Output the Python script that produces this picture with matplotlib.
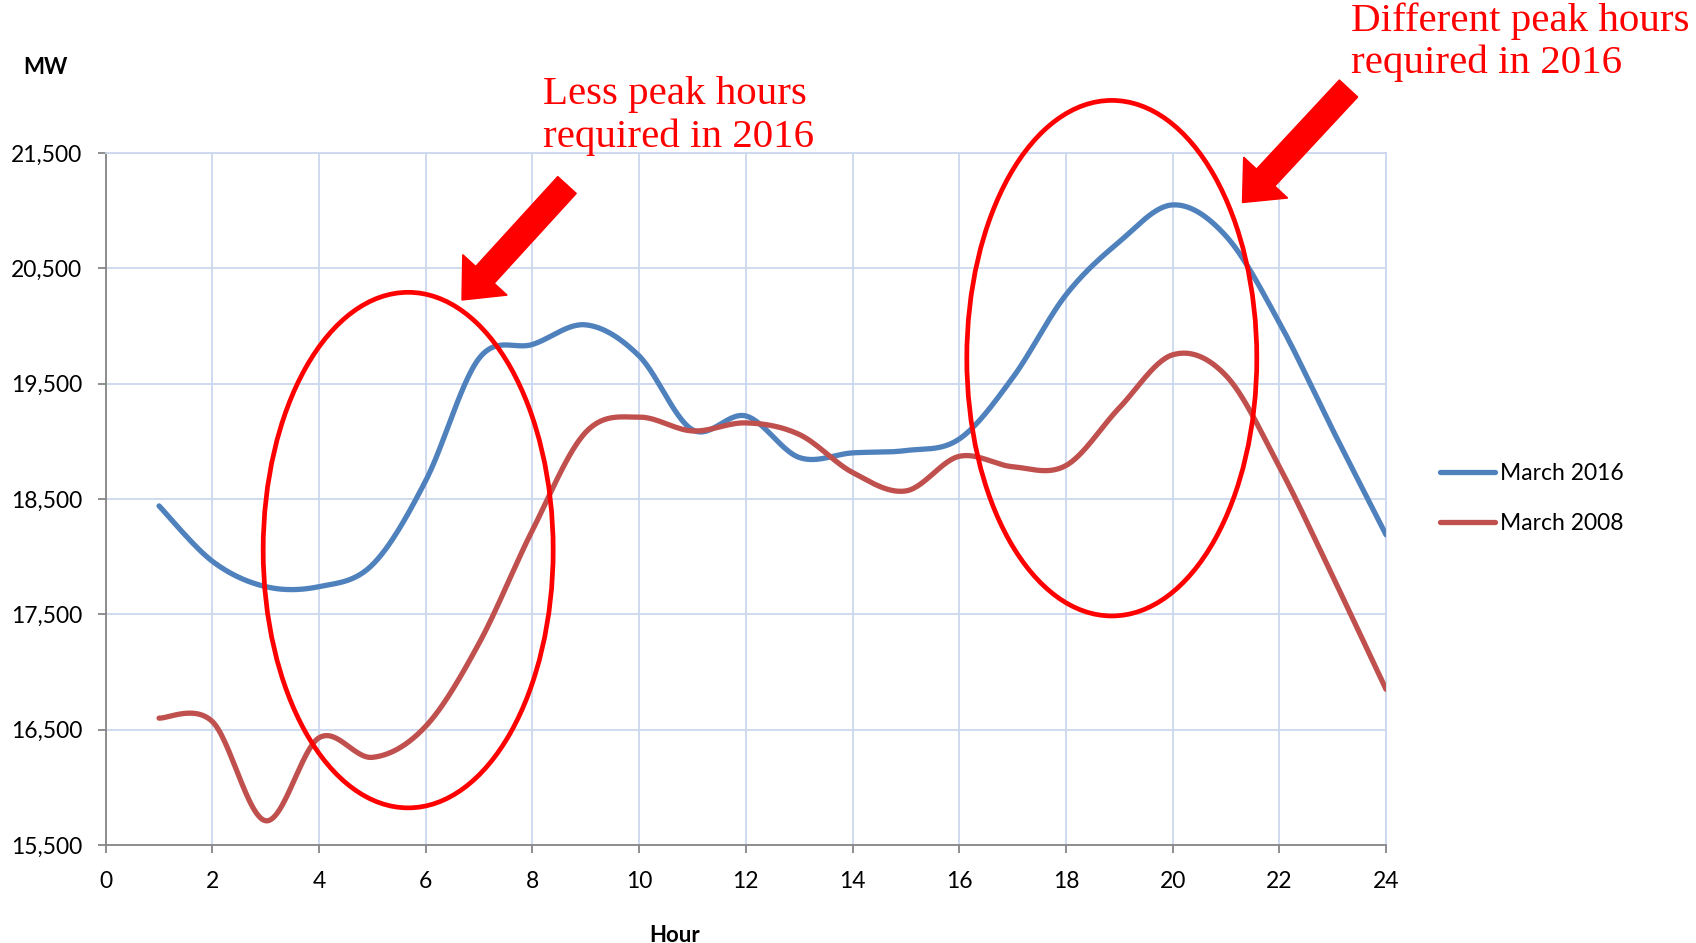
import numpy as np
import matplotlib
matplotlib.use("Agg")
import matplotlib.pyplot as plt
from matplotlib.patches import Ellipse, FancyArrow
from matplotlib.transforms import IdentityTransform
from matplotlib.ticker import FuncFormatter

# Hourly load (MW)
hours = list(range(1, 25))
march_2016 = [18440, 17960, 17740, 17740, 17930, 18660, 19720, 19840,
              20010, 19740, 19100, 19220, 18860, 18900, 18920, 19020,
              19550, 20270, 20730, 21050, 20780, 20030, 19100, 18190]
march_2008 = [16600, 16570, 15710, 16430, 16260, 16530, 17250, 18230,
              19080, 19210, 19090, 19160, 19060, 18730, 18570, 18870,
              18780, 18790, 19290, 19750, 19570, 18780, 17830, 16850]

x_ticks = list(range(0, 25, 2))
y_ticks = list(range(15500, 21501, 1000))

blue = '#4F81BD'
red = '#C0504D'
grid_col = '#CCD8EE'


def smooth(x, y, n=30):
    # Excel-style "smoothed line": bezier through points, Catmull-Rom tangents
    x = np.asarray(x, float)
    y = np.asarray(y, float)
    px = np.concatenate([[x[0]], x, [x[-1]]])
    py = np.concatenate([[y[0]], y, [y[-1]]])
    t = np.linspace(0, 1, n)[:, None]
    xs, ys = [], []
    for i in range(1, len(px) - 2):
        p0 = np.array([px[i], py[i]])
        p3 = np.array([px[i + 1], py[i + 1]])
        p1 = p0 + (p3 - np.array([px[i - 1], py[i - 1]])) / 6
        p2 = p3 - (np.array([px[i + 2], py[i + 2]]) - p0) / 6
        pts = ((1 - t) ** 3) * p0 + 3 * ((1 - t) ** 2) * t * p1 \
            + 3 * (1 - t) * t ** 2 * p2 + t ** 3 * p3
        xs.append(pts[:, 0])
        ys.append(pts[:, 1])
    return np.concatenate(xs), np.concatenate(ys)


fig = plt.figure(figsize=(16.96, 9.43), dpi=100)
ax = fig.add_axes([105.7 / 1696, 98 / 943, 1280.3 / 1696, 692 / 943])

sx, sy = smooth(hours, march_2016)
ax.plot(sx, sy, color=blue, lw=3.8, solid_capstyle='round', label='March 2016', zorder=3)
sx, sy = smooth(hours, march_2008)
ax.plot(sx, sy, color=red, lw=3.8, solid_capstyle='round', label='March 2008', zorder=3)

ax.set_xlim(0, 24)
ax.set_ylim(15500, 21500)
ax.set_xticks(x_ticks)
ax.set_yticks(y_ticks)
ax.yaxis.set_major_formatter(FuncFormatter(lambda v, p: f"{int(v):,}"))
ax.grid(True, color=grid_col, lw=1.3)
ax.set_axisbelow(True)

for s in ['top', 'right']:
    ax.spines[s].set_color(grid_col)
    ax.spines[s].set_linewidth(1.3)
for s in ['left', 'bottom']:
    ax.spines[s].set_color('#868686')
    ax.spines[s].set_linewidth(1.3)

ax.tick_params(axis='both', length=6, width=1.3, color='#868686',
               labelsize=16.5, labelfontfamily='Lato')
ax.tick_params(axis='y', pad=11)
ax.tick_params(axis='x', pad=13)

# MW and Hour labels
fig.text(45.5 / 1696, 1 - 67.7 / 943, 'MW', ha='center', va='center',
         fontsize=16, fontweight='bold', family='Lato')
fig.text(675 / 1696, 1 - 935 / 943, 'Hour', ha='center', va='center',
         fontsize=16, fontweight='bold', family='Lato')

ax.legend(loc='center left', bbox_to_anchor=(1440 / 1696, 1 - 498.7 / 943),
          bbox_transform=fig.transFigure, frameon=False,
          prop={'family': 'Lato', 'size': 16.5}, handlelength=2.4,
          handletextpad=0.2, labelspacing=1.25, borderpad=0, borderaxespad=0)

# red ellipses
ax.add_patch(Ellipse((5.67, 18057), 2 * 2.718, 2 * 2235, fill=False,
                     ec='#FF0000', lw=3.4, clip_on=False, zorder=4))
ax.add_patch(Ellipse((18.86, 19721), 2 * 2.718, 2 * 2235, fill=False,
                     ec='#FF0000', lw=3.4, clip_on=False, zorder=4))

# arrows (pixel coordinates)
for tail, tip in [((567, 758), (462, 643)), ((1348.5, 854.5), (1242.5, 740.5))]:
    fig.add_artist(FancyArrow(tail[0], tail[1], tip[0] - tail[0], tip[1] - tail[1],
                              width=25, head_width=60, head_length=34,
                              length_includes_head=True, color='#FF0000',
                              transform=IdentityTransform(), zorder=5))

# annotation text (baseline of the last line)
fig.text(543 / 1696, 1 - 146.7 / 943, 'Less peak hours\nrequired in 2016',
         ha='left', va='baseline', color='#FF0000', fontsize=29.5,
         family='Liberation Serif', linespacing=1.17)
fig.text(1350.7 / 1696, 1 - 73.3 / 943, 'Different peak hours\nrequired in 2016',
         ha='left', va='baseline', color='#FF0000', fontsize=29.5,
         family='Liberation Serif', linespacing=1.17)

fig.savefig('out.png', dpi=100)
